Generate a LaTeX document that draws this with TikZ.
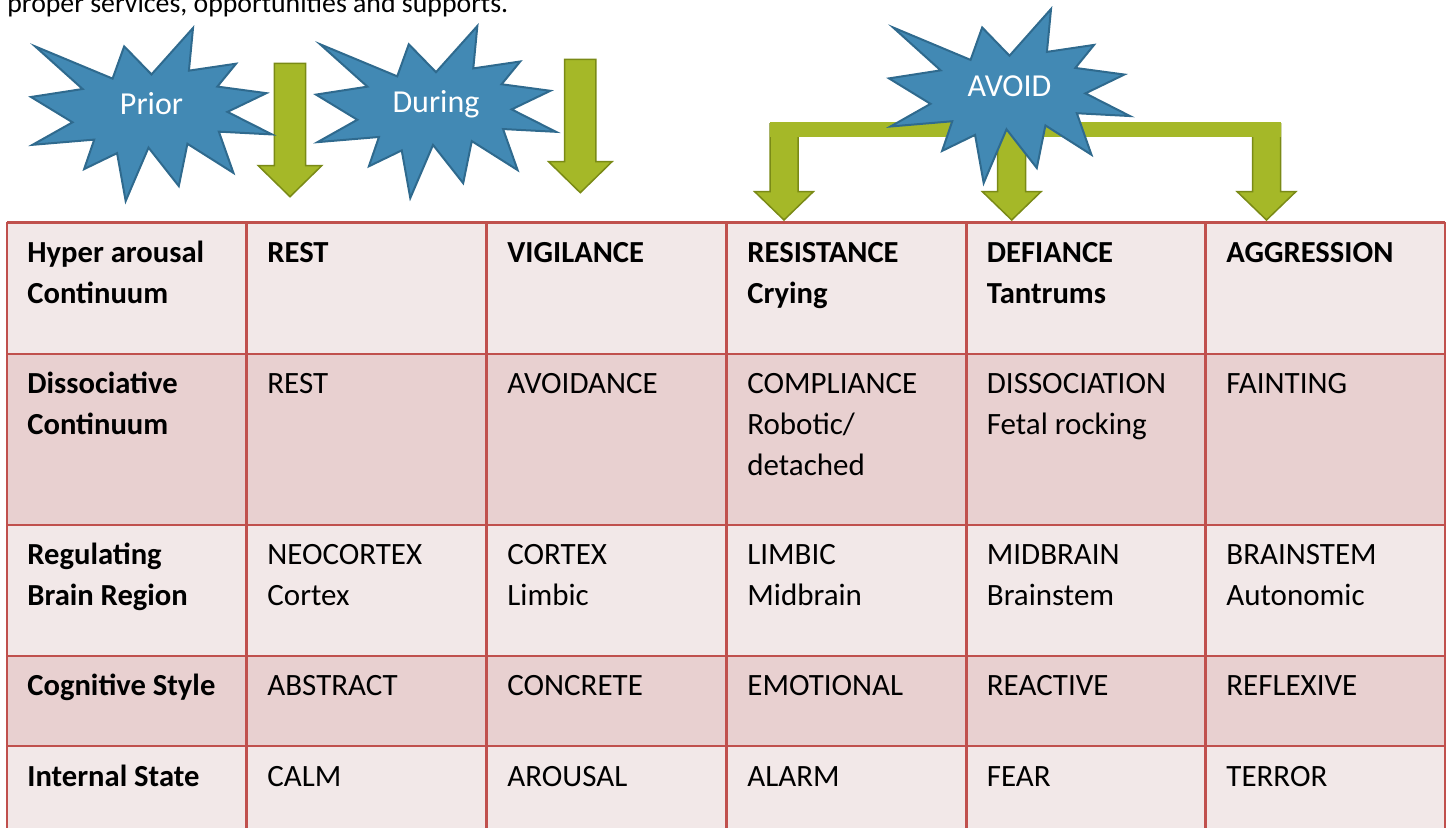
\documentclass[tikz,border=0pt]{standalone}
\usepackage{fontspec}
\setmainfont{Carlito}

\definecolor{burstfill}{HTML}{4289B4}
\definecolor{burstline}{HTML}{2F6A8E}
\definecolor{arrowfill}{HTML}{A5B828}
\definecolor{arrowline}{HTML}{7A8A16}
\definecolor{gridline}{HTML}{C0504D}
\definecolor{rowlight}{HTML}{F2E8E8}
\definecolor{rowdark}{HTML}{E8D0D0}

\tikzset{
  burststyle/.style={fill=burstfill, draw=burstline, line width=1pt, line join=miter},
  blockarrow/.style={fill=arrowfill, draw=arrowline, line width=0.75pt, line join=miter},
  gridstyle/.style={draw=gridline, line width=1.25pt},
  celltext/.style={inner sep=0pt, anchor=base west, text=black,
                   font=\fontsize{15.5}{20.5}\selectfont},
  headtext/.style={celltext, font=\fontsize{15.3}{20.5}\selectfont\bfseries},
  bursttext/.style={inner sep=0pt, anchor=base, text=white,
                    font=\fontsize{16}{19}\selectfont},
}

% twelve-point explosion outline in a 216 x 216 box
\newcommand\burst[4]{%
  \begin{scope}[shift={(#1,#2)}, xscale=#3/216, yscale=#4/216]
    \draw[burststyle] (108,58) -- (145.22,0) -- (141.55,53.25) -- (183.80,44.57)
      -- (167.02,73.15) -- (210.97,81.37) -- (176.07,104.75) -- (216,132.90)
      -- (168.37,129.42) -- (181.45,180.95) -- (140.20,144.57) -- (132.47,197.37)
      -- (105.32,149.35) -- (84.85,216) -- (77.15,156.27) -- (47.62,176.17)
      -- (56.67,139.37) -- (1.35,145.87) -- (37.22,117.75) -- (0,86.15)
      -- (46.27,76.17) -- (3.70,22.95) -- (73.12,63.20) -- (83.52,22.95) -- cycle;
  \end{scope}}

% downward block arrow: centre x, half shaft, half head, top, shoulder, tip
\newcommand\downblock[6]{%
  \draw[blockarrow] (#1-#2,#4) -- (#1+#2,#4) -- (#1+#2,#5) -- (#1+#3,#5)
    -- (#1,#6) -- (#1-#3,#5) -- (#1-#2,#5) -- cycle;}

% stacked cell lines, first baseline on the anchor
\newcommand\lines[1]{\begin{tabular}[t]{@{}l@{}}#1\end{tabular}}

\begin{document}
\begin{tikzpicture}[x=0.5pt, y=-0.5pt]
  \useasboundingbox (0,0) rectangle (1447,828);
  \clip (0,0) rectangle (1447,828);

  % closing line of the preceding paragraph
  \node[inner sep=0pt, anchor=base west, font=\fontsize{13.9}{17}\selectfont]
    (para) at (7,13) {proper services, opportunities and supports.};

  % row bands
  \fill[rowlight] (7,222.5) rectangle (1445,354);
  \fill[rowdark]  (7,354)   rectangle (1445,525);
  \fill[rowlight] (7,525)   rectangle (1445,656);
  \fill[rowdark]  (7,656)   rectangle (1445,746);
  \fill[rowlight] (7,746)   rectangle (1445,840);

  % grid
  \foreach \yy in {222.5,354,525,656,746}
    \draw[gridstyle] (7,\yy) -- (1445,\yy);
  \foreach \xx in {7,246.5,486.5,726.5,966.5,1205.5,1445}
    \draw[gridstyle] (\xx,221.9) -- (\xx,840);

  % row 1: hyper arousal
  \node[headtext] (r1c0) at (27,262.5)   {\lines{Hyper arousal\\Continuum}};
  \node[headtext] (r1c1) at (267,262.5)  {REST};
  \node[headtext] (r1c2) at (507,262.5)  {VIGILANCE};
  \node[headtext] (r1c3) at (747,262.5)  {\lines{RESISTANCE\\Crying}};
  \node[headtext] (r1c4) at (986.5,262.5){\lines{DEFIANCE\\Tantrums}};
  \node[headtext] (r1c5) at (1226,262.5) {AGGRESSION};

  % row 2: dissociative
  \node[headtext] (r2c0) at (27,394)   {\lines{Dissociative\\Continuum}};
  \node[celltext] (r2c1) at (267,394)  {REST};
  \node[celltext] (r2c2) at (507,394)  {AVOIDANCE};
  \node[celltext] (r2c3) at (747,394)  {\lines{COMPLIANCE\\Robotic/\\detached}};
  \node[celltext] (r2c4) at (986.5,394){\lines{DISSOCIATION\\Fetal rocking}};
  \node[celltext] (r2c5) at (1226,394) {FAINTING};

  % row 3: brain region
  \node[headtext] (r3c0) at (27,565)   {\lines{Regulating\\Brain Region}};
  \node[celltext] (r3c1) at (267,565)  {\lines{NEOCORTEX\\Cortex}};
  \node[celltext] (r3c2) at (507,565)  {\lines{CORTEX\\Limbic}};
  \node[celltext] (r3c3) at (747,565)  {\lines{LIMBIC\\Midbrain}};
  \node[celltext] (r3c4) at (986.5,565){\lines{MIDBRAIN\\Brainstem}};
  \node[celltext] (r3c5) at (1226,565) {\lines{BRAINSTEM\\Autonomic}};

  % row 4: cognitive style
  \node[headtext] (r4c0) at (27,696)   {Cognitive Style};
  \node[celltext] (r4c1) at (267,696)  {ABSTRACT};
  \node[celltext] (r4c2) at (507,696)  {CONCRETE};
  \node[celltext] (r4c3) at (747,696)  {EMOTIONAL};
  \node[celltext] (r4c4) at (986.5,696){REACTIVE};
  \node[celltext] (r4c5) at (1226,696) {REFLEXIVE};

  % row 5: internal state
  \node[headtext] (r5c0) at (27,786)   {Internal State};
  \node[celltext] (r5c1) at (267,786)  {CALM};
  \node[celltext] (r5c2) at (507,786)  {AROUSAL};
  \node[celltext] (r5c3) at (747,786)  {ALARM};
  \node[celltext] (r5c4) at (986.5,786){FEAR};
  \node[celltext] (r5c5) at (1226,786) {TERROR};

  % single down arrows
  \downblock{290}{15.6}{31.7}{63.3}{165.7}{196.7}
  \downblock{580.3}{15.6}{31.7}{59.3}{161.7}{192.7}

  % bracket with three down arrows
  \downblock{784}{14}{29.3}{124}{191.7}{220}
  \downblock{1011.7}{14}{29.3}{124}{191.7}{220}
  \downblock{1266.5}{14}{29.3}{124}{191.7}{220}
  \fill[arrowfill] (770,122.3) rectangle (1281,137.3);

  % bursts
  \burst{31}{28}{241}{173}
  \node[bursttext] (prior) at (151.5,115) {Prior};
  \burst{316}{26}{240}{172}
  \node[bursttext] (during) at (436,113) {During};
  \burst{889}{9}{241}{174}
  \node[bursttext] (avoid) at (1009.5,97) {AVOID};
\end{tikzpicture}
\end{document}
